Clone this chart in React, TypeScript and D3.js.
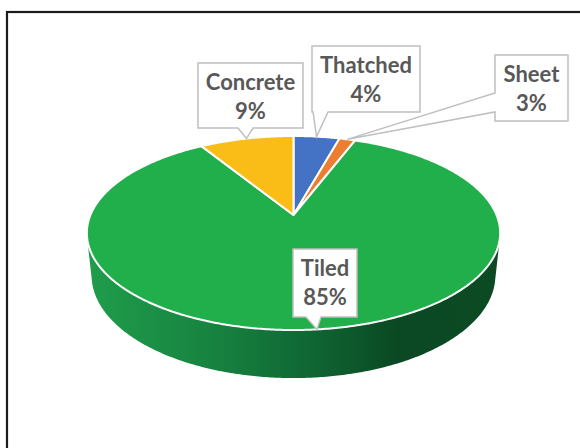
import React from 'react';
import * as d3 from 'd3';

// ---- data ----
const categories = ['Thatched', 'Sheet', 'Tiled', 'Concrete'];
const shares = [4.3, 1.5, 85.4, 8.8];
const percentLabels = ['4%', '3%', '85%', '9%'];
const topColors = ['#4472c4', '#ed7d31', '#20af4b', '#fabc16'];

// ---- layout ----
const W = 580, H = 448;
const CX = 293.5, CY = 215;
const FOCAL = 970.6, DIST = 4.78, ALPHA = (27.47 * Math.PI) / 180, THICK = 0.238;

type Callout = { x: number; y: number; w: number; h: number; side: 'bottom' | 'left'; base: [number, number] };
const callouts: Record<string, Callout> = {
  Concrete: { x: 198, y: 63, w: 105, h: 65, side: 'bottom', base: [238, 253] },
  Thatched: { x: 312, y: 46, w: 108, h: 66, side: 'bottom', base: [313, 328] },
  Sheet: { x: 495, y: 55, w: 73, h: 66, side: 'left', base: [93, 112] },
  Tiled: { x: 293, y: 249, w: 64, h: 68, side: 'bottom', base: [306, 321] },
};

function project(x: number, y: number, z: number): [number, number] {
  const depth = DIST - y * Math.cos(ALPHA) - z * Math.sin(ALPHA);
  const sy = -y * Math.sin(ALPHA) + z * Math.cos(ALPHA);
  return [CX + (FOCAL * x) / depth, CY - (FOCAL * sy) / depth];
}
// phi: clockwise from 12 o'clock (far side), as d3.pie angles
const rim = (phi: number, z: number) => project(Math.sin(phi), -Math.cos(phi), z);

function arcPoints(a0: number, a1: number, z: number): [number, number][] {
  const n = Math.max(2, Math.ceil(Math.abs(a1 - a0) / 0.01));
  const pts: [number, number][] = [];
  for (let i = 0; i <= n; i++) pts.push(rim(a0 + ((a1 - a0) * i) / n, z));
  return pts;
}

const line = d3.line<[number, number]>().x(d => d[0]).y(d => d[1]);

export default function App() {
  const pie = d3.pie<number>().sort(null).value(d => d);
  const arcs = pie(shares);

  // visible outer wall: where the wall normal faces the camera
  const k = 1 / (DIST * Math.cos(ALPHA));
  const vis0 = Math.acos(-k);
  const vis1 = 2 * Math.PI - vis0;

  const sides = arcs
    .map((a, i) => {
      const s = Math.max(a.startAngle, vis0);
      const e = Math.min(a.endAngle, vis1);
      if (e <= s) return null;
      const top = arcPoints(s, e, 0);
      const bot = arcPoints(e, s, -THICK);
      return { i, d: line([...top, ...bot]) + 'Z' };
    })
    .filter(Boolean) as { i: number; d: string }[];

  const center = project(0, 0, 0);

  return (
    <svg width={W} height={H} style={{ position: 'absolute', left: 0, top: 0, background: '#fff' }}
      fontFamily="Lato, 'Open Sans', sans-serif">
      <defs>
        <linearGradient id="sideGreen" gradientUnits="userSpaceOnUse" x1={88} x2={500} y1={0} y2={0}>
          <stop offset="0" stopColor="#1f9d4b" />
          <stop offset="0.3" stopColor="#178340" />
          <stop offset="0.55" stopColor="#0f6533" />
          <stop offset="0.75" stopColor="#0a4923" />
          <stop offset="1" stopColor="#0b4a23" />
        </linearGradient>
      </defs>
      <rect x={7} y={12} width={600} height={500} fill="none" stroke="#1c1c1c" strokeWidth={2.2} />

      {sides.map(s => (
        <path key={'s' + s.i} d={s.d} fill="url(#sideGreen)" />
      ))}

      {arcs.map((a, i) => {
        const pts = [center, ...arcPoints(a.startAngle, a.endAngle, 0)];
        return (
          <path key={'t' + i} d={line(pts) + 'Z'} fill={topColors[i]} stroke="#fff" strokeWidth={2} strokeLinejoin="round" />
        );
      })}

      {arcs.map((a, i) => {
        const name = categories[i];
        const c = callouts[name];
        const tip = rim((a.startAngle + a.endAngle) / 2, 0);
        let d: string;
        if (c.side === 'bottom') {
          d = `M${c.x},${c.y}H${c.x + c.w}V${c.y + c.h}H${c.base[1]}L${tip[0]},${tip[1]}L${c.base[0]},${c.y + c.h}H${c.x}Z`;
        } else {
          d = `M${c.x},${c.y}H${c.x + c.w}V${c.y + c.h}H${c.x}V${c.base[1]}L${tip[0]},${tip[1]}L${c.x},${c.base[0]}Z`;
        }
        const mx = c.x + c.w / 2;
        return (
          <g key={'l' + i}>
            <path d={d} fill="#fff" stroke="#bfbfbf" strokeWidth={1.5} strokeLinejoin="miter" />
            <text x={mx} y={c.y + 26.5} textAnchor="middle" fontSize={22} fontWeight="bold" fill="#585858">{name}</text>
            <text x={mx} y={c.y + 55.5} textAnchor="middle" fontSize={22} fontWeight="bold" fill="#585858">{percentLabels[i]}</text>
          </g>
        );
      })}
    </svg>
  );
}
